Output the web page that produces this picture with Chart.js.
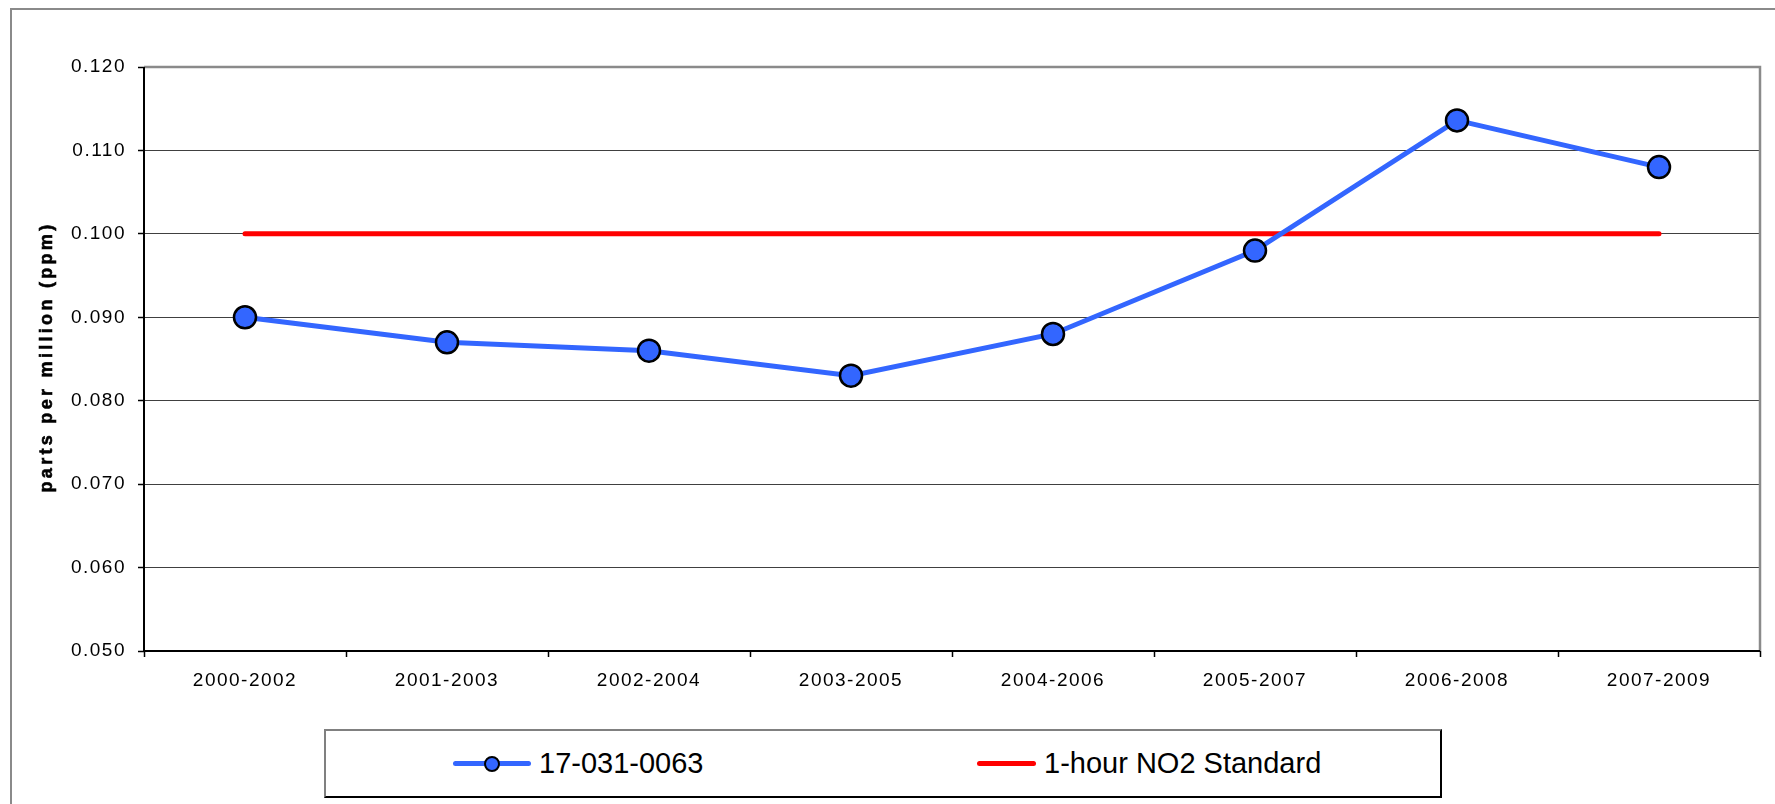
<!DOCTYPE html>
<html>
<head>
<meta charset="utf-8">
<script src="https://cdn.jsdelivr.net/npm/chart.js@4.4.1/dist/chart.umd.min.js"></script>
<style>
    body { margin: 0; background: #fff; overflow: hidden; }
    #wrap { position: relative; width: 1775px; height: 804px; overflow: hidden; }
    #frame { position: absolute; left: 10px; top: 8px; width: 2000px; height: 2000px;
             border-left: 2px solid #8a8a8a; border-top: 2px solid #8a8a8a; }
    #chart { position: absolute; left: 0; top: 0; }
    #customLegend { position: absolute; left: 324px; top: 729px; width: 1114px; height: 65px;
                    border-left: 2px solid #808080; border-top: 2px solid #808080;
                    border-right: 2px solid #000; border-bottom: 2px solid #000; background: #fff; }
    .legend-item { position: absolute; top: 0; height: 65px; display: flex; align-items: center;
                   font-family: "Liberation Sans", Arial, sans-serif; font-size: 29px; color: #000; }
    .legend-line { position: relative; height: 5px; border-radius: 3px; margin-right: 8px; }
    .legend-dot { position: absolute; width: 12px; height: 12px; border: 2px solid #000; border-radius: 50%;
                  left: 50%; top: 50%; transform: translate(-50%, -50%); }
</style>
</head>
<body>
<div id="wrap">
    <div id="frame"></div>
    <canvas id="chart" width="1775" height="804"></canvas>
    <div id="customLegend"></div>
</div>
<script>
var periods = ["2000-2002", "2001-2003", "2002-2004", "2003-2005", "2004-2006", "2005-2007", "2006-2008", "2007-2009"];
var siteValues = [0.090, 0.087, 0.086, 0.083, 0.088, 0.098, 0.1136, 0.108];
var standardValues = [0.100, 0.100, 0.100, 0.100, 0.100, 0.100, 0.100, 0.100];
var yMin = 0.050, yMax = 0.120, yStep = 0.010;

var siteLabel = "17-031-0063";
var standardLabel = "1-hour NO2 Standard";
var yTitle = "parts per million (ppm)";

var blue = "#3366ff";
var red = "#ff0000";

// spacing on tick text, plus plot frame and the y title
var excelLook = {
    id: 'excelLook',
    beforeDraw: function (chart) {
        chart.ctx.letterSpacing = '1.5px';
    },
    afterDraw: function (chart) {
        var ctx = chart.ctx;
        var a = chart.chartArea;
        ctx.save();
        ctx.strokeStyle = '#8a8a8a';
        ctx.lineWidth = 2.5;
        ctx.beginPath();
        ctx.moveTo(a.left, a.top);
        ctx.lineTo(a.right, a.top);
        ctx.lineTo(a.right, a.bottom);
        ctx.stroke();
        ctx.strokeStyle = '#000';
        ctx.lineWidth = 2;
        ctx.beginPath();
        ctx.moveTo(a.left, a.top);
        ctx.lineTo(a.left, a.bottom);
        ctx.lineTo(a.right, a.bottom);
        ctx.stroke();

        ctx.letterSpacing = '3.3px';
        ctx.translate(47, (a.top + a.bottom) / 2 - 2);
        ctx.rotate(-Math.PI / 2);
        ctx.font = 'bold 18px "Liberation Sans", Arial, sans-serif';
        ctx.fillStyle = '#000';
        ctx.strokeStyle = '#000';
        ctx.lineWidth = 0.6;
        ctx.textAlign = 'center';
        ctx.textBaseline = 'middle';
        ctx.fillText(yTitle, 0, 0);
        ctx.strokeText(yTitle, 0, 0);
        ctx.restore();
        ctx.letterSpacing = '0px';
    }
};

var tickFont = { family: '"Liberation Sans", Arial, sans-serif', size: 19 };

var ctx = document.getElementById('chart').getContext('2d');
var chart = new Chart(ctx, {
    type: 'line',
    data: {
        labels: periods,
        datasets: [
            {
                label: siteLabel,
                data: siteValues,
                borderColor: blue,
                borderWidth: 5,
                pointRadius: 11,
                pointBackgroundColor: blue,
                pointBorderColor: '#000',
                pointBorderWidth: 2.5,
                tension: 0
            },
            {
                label: standardLabel,
                data: standardValues,
                borderColor: red,
                borderWidth: 5,
                pointRadius: 0,
                borderCapStyle: 'round',
                tension: 0
            }
        ]
    },
    options: {
        responsive: false,
        animation: false,
        layout: { padding: { top: 67, right: 15, left: 0, bottom: 0 } },
        plugins: {
            legend: { display: false },
            title: { display: false },
            tooltip: { enabled: false }
        },
        scales: {
            x: {
                offset: true,
                grid: {
                    offset: true,
                    drawOnChartArea: false,
                    drawTicks: true,
                    tickLength: 6,
                    tickColor: '#000',
                    tickWidth: 1.5
                },
                border: { display: false },
                ticks: { color: '#000', font: tickFont, padding: 12, maxRotation: 0, autoSkip: false },
                afterFit: function (scale) { scale.height = 153; }
            },
            y: {
                min: yMin,
                max: yMax,
                grid: {
                    color: '#404040',
                    lineWidth: 1,
                    drawTicks: true,
                    tickLength: 6,
                    tickColor: '#000',
                    tickWidth: 1.5
                },
                border: { display: false },
                ticks: {
                    stepSize: yStep,
                    color: '#000',
                    font: tickFont,
                    padding: 12,
                    callback: function (v) { return v.toFixed(3); }
                },
                afterFit: function (scale) { scale.width = 144; }
            }
        }
    },
    plugins: [excelLook]
});

// Custom legend in a framed box
var legend = document.getElementById('customLegend');
var legendItems = [
    { text: siteLabel, color: blue, dot: true, left: 127, lineWidth: 78 },
    { text: standardLabel, color: red, dot: false, left: 651, lineWidth: 59 }
];
legendItems.forEach(function (entry) {
    var item = document.createElement('div');
    item.classList.add('legend-item');
    item.style.left = entry.left + 'px';
    var line = document.createElement('div');
    line.classList.add('legend-line');
    line.style.width = entry.lineWidth + 'px';
    line.style.backgroundColor = entry.color;
    if (entry.dot) {
        var dot = document.createElement('div');
        dot.classList.add('legend-dot');
        dot.style.backgroundColor = entry.color;
        line.appendChild(dot);
    }
    var name = document.createElement('span');
    name.textContent = entry.text;
    item.appendChild(line);
    item.appendChild(name);
    legend.appendChild(item);
});
</script>
</body>
</html>
